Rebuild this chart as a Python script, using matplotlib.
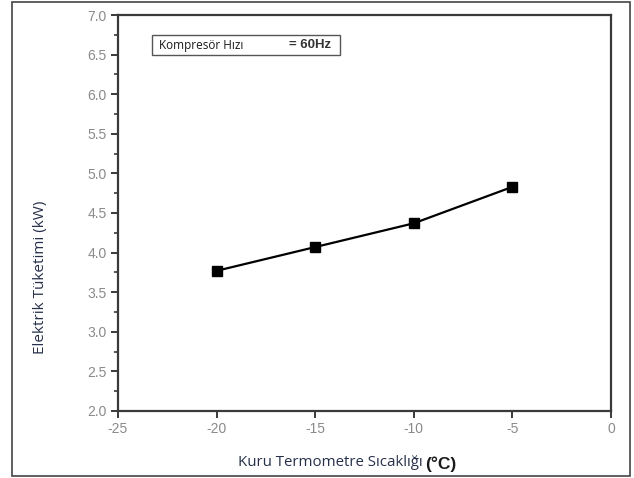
import matplotlib
matplotlib.use("Agg")
import matplotlib.pyplot as plt
from matplotlib.patches import Rectangle
from matplotlib.ticker import MultipleLocator

# Dry-bulb temperature (°C) vs electrical consumption (kW), compressor at 60 Hz
temperatures = [-20, -15, -10, -5]
consumption = [3.77, 4.07, 4.37, 4.83]
x_ticks = [-25, -20, -15, -10, -5, 0]
y_ticks = [2.0, 2.5, 3.0, 3.5, 4.0, 4.5, 5.0, 5.5, 6.0, 6.5, 7.0]

W, H = 634, 478
fig = plt.figure(figsize=(W / 100, H / 100), dpi=100)
ax = fig.add_axes([118 / W, 1 - 411 / H, (611 - 118) / W, (411 - 15) / H])

ax.plot(temperatures, consumption, color="black", lw=1.6,
        marker="s", markersize=7, markerfacecolor="black")

ax.set_xlim(-25, 0)
ax.set_ylim(2.0, 7.0)
ax.set_xticks(x_ticks)
ax.set_xticklabels([str(t) for t in x_ticks])
ax.set_yticks(y_ticks)
ax.set_yticklabels([f"{v:.1f}" for v in y_ticks])
ax.yaxis.set_minor_locator(MultipleLocator(0.25))

for side in ax.spines.values():
    side.set_linewidth(1.6)
    side.set_color("#3a3a3a")
ax.tick_params(axis="both", which="major", direction="out", length=5,
               width=1.4, color="#3a3a3a", labelcolor="#8a8a8a",
               labelsize=10, pad=3)
ax.tick_params(axis="y", which="minor", direction="out", length=3,
               width=1.2, color="#3a3a3a")
for lbl in ax.get_xticklabels() + ax.get_yticklabels():
    lbl.set_family("Liberation Sans")

# legend-like box
box = Rectangle((152 / W, 1 - 55 / H), (340 - 152) / W, 20 / H,
                transform=fig.transFigure, facecolor="white",
                edgecolor="#555555", lw=1.0)
fig.add_artist(box)
fig.text(159 / W, 1 - 45 / H, "Kompresör Hızı", fontsize=8.5,
         family="Open Sans", color="#1a1a1a", va="center")
fig.text(289 / W, 1 - 45 / H, "= 60Hz", fontsize=9.5, weight="bold",
         family="Liberation Sans", color="#333333", va="center")

# axis titles
fig.text(41 / W, 1 - 277 / H, "Elektrik Tüketimi (kW)", rotation=90,
         fontsize=11, family="Open Sans", color="#26304a",
         ha="center", va="center")
xlab = fig.text(238 / W, 1 - 463 / H, "Kuru Termometre Sıcaklığı",
                fontsize=10.8, family="Open Sans", color="#26304a",
                ha="left", va="center")
# unit placed right after the x title
ax.annotate("(°C)", xy=(1, 0.5), xycoords=xlab, xytext=(2, -1),
            textcoords="offset points", fontsize=12.5, weight="bold",
            family="Liberation Sans", color="#1a1a1a",
            ha="left", va="center", annotation_clip=False)

# outer frame
frame = Rectangle((12 / W, 1 - 476 / H), (630 - 12) / W, (476 - 2) / H,
                  transform=fig.transFigure, facecolor="none",
                  edgecolor="#444444", lw=1.2)
fig.add_artist(frame)

fig.savefig("out.png", dpi=100)
